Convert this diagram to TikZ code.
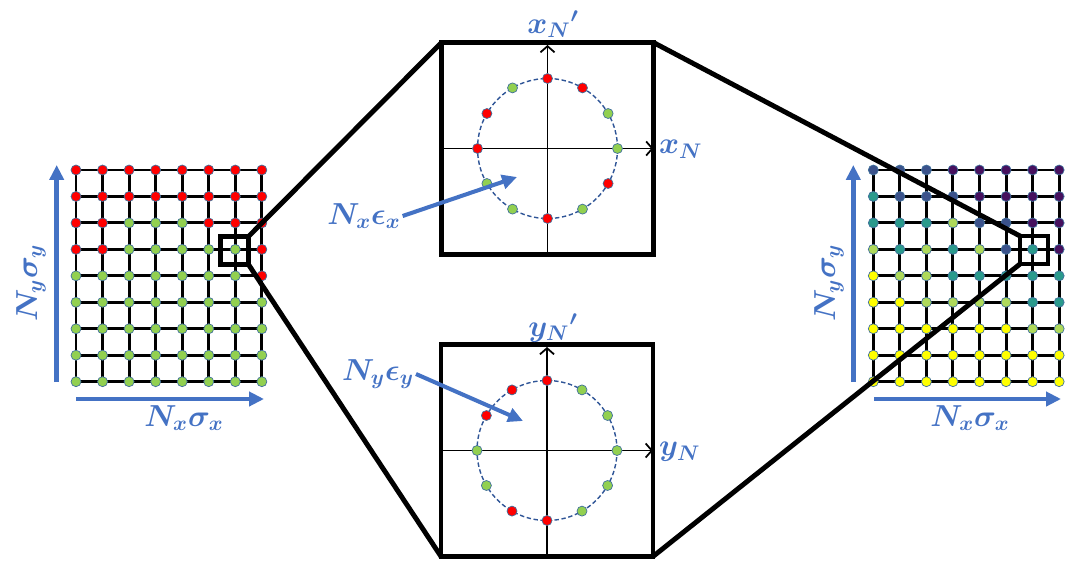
\documentclass[tikz,border=0pt]{standalone}
\usepackage{amsmath}
\usepackage{bm}
\usetikzlibrary{arrows.meta}
\definecolor{lblue}{HTML}{4472C4}
\definecolor{dotedge}{HTML}{41719C}
\definecolor{ringblue}{HTML}{2F5597}
\definecolor{cR}{HTML}{FF0000}
\definecolor{cG}{HTML}{92D050}
\definecolor{vP}{HTML}{46105E}
\definecolor{vB}{HTML}{3B528B}
\definecolor{vT}{HTML}{2A9A8C}
\definecolor{vL}{HTML}{AED95A}
\definecolor{vY}{HTML}{FFFF00}

\begin{document}
\begin{tikzpicture}[x=0.02cm, y=-0.02cm,
  bigbox/.style={draw, line width=2.8pt, minimum width=4.24cm, minimum height=4.24cm, inner sep=0pt, outer sep=0pt},
  smallbox/.style={draw, line width=2.3pt, minimum size=0.56cm, inner sep=0pt, outer sep=0pt},
  link/.style={line width=2.8pt, line cap=round},
  lbl/.style={text=lblue, font=\fontsize{18}{20}\selectfont, inner sep=1pt},
  bluearrow/.style={draw=lblue, line width=2.8pt, -{Triangle[length=8.5pt,width=8pt]}},
  axis/.style={line width=1pt, -{Straight Barb[length=3.5pt,width=8pt]}},
  gridline/.style={line width=1.7pt},
  dot/.style={draw=dotedge, line width=0.4pt}]
  \useasboundingbox (0,0) rectangle (1074,561);
  %% 1. Left grid
  \foreach \j in {0,...,8} \draw[gridline] (76,{170+26.46*\j}) -- (261.9,{170+26.46*\j});
  \foreach \i in {0,...,7} \draw[gridline] ({76+26.55*\i},170) -- ({76+26.55*\i},381.7);
  \foreach \row [count=\j from 0] in {{cR,cR,cR,cR,cR,cR,cR,cR},{cR,cR,cR,cR,cR,cR,cR,cR},
      {cR,cR,cG,cG,cG,cR,cR,cR},{cR,cR,cG,cG,cG,cG,cG,cR},{cG,cG,cG,cG,cG,cG,cG,cR},
      {cG,cG,cG,cG,cG,cG,cG,cG},{cG,cG,cG,cG,cG,cG,cG,cG},{cG,cG,cG,cG,cG,cG,cG,cG},
      {cG,cG,cG,cG,cG,cG,cG,cG}}
    \foreach \c [count=\i from 0] in \row
      \filldraw[dot, fill=\c] ({76+26.55*\i},{170+26.46*\j}) circle (0.1cm);
  \draw[bluearrow] (56.7,382) -- (56.7,165);
  \draw[bluearrow] (76,399) -- (264,399);
  \node[lbl, rotate=90] (nyL) at (31,283) {$\bm{N_y\sigma_y}$};
  \node[lbl] (nxL) at (184,418) {$\bm{N_x\sigma_x}$};

  %% 2. Right grid
  \begin{scope}[shift={(797.3,0)}]
    \foreach \j in {0,...,8} \draw[gridline] (76,{170+26.46*\j}) -- (261.9,{170+26.46*\j});
    \foreach \i in {0,...,7} \draw[gridline] ({76+26.55*\i},170) -- ({76+26.55*\i},381.7);
    \foreach \row [count=\j from 0] in {{vB,vB,vB,vP,vP,vP,vP,vP},{vT,vB,vB,vB,vP,vP,vP,vP},
        {vT,vT,vT,vL,vB,vB,vP,vP},{vL,vT,vL,vT,vL,vB,vT,vP},{vY,vL,vL,vT,vT,vT,vT,vT},
        {vY,vY,vL,vL,vL,vL,vT,vT},{vY,vY,vY,vY,vY,vY,vL,vL},{vY,vY,vY,vY,vY,vY,vY,vY},
        {vY,vY,vY,vY,vY,vY,vY,vY}}
      \foreach \c [count=\i from 0] in \row
        \filldraw[dot, fill=\c] ({76+26.55*\i},{170+26.46*\j}) circle (0.1cm);
  \end{scope}
  \draw[bluearrow] (853.3,382) -- (853.3,165);
  \draw[bluearrow] (874,399) -- (1061,399);
  \node[lbl, rotate=90] (nyR) at (829,283) {$\bm{N_y\sigma_y}$};
  \node[lbl] (nxR) at (970,418) {$\bm{N_x\sigma_x}$};

  %% 3. Zoom boxes
  \node[bigbox] (boxX) at (547.5,148.5) {};
  \node[bigbox] (boxY) at (547,450.5) {};
  \node[smallbox] (zoomL) at (234.5,250.5) {};
  \node[smallbox] (zoomR) at (1034,250) {};
  \draw[link] (zoomL.north east) -- (boxX.north west);
  \draw[link] (zoomL.south east) -- (boxY.south west);
  \draw[link] (boxX.north east) -- (zoomR.north west);
  \draw[link] (boxY.south east) -- (zoomR.south west);

  %% 4. Rings
  \draw[axis] (boxX.west) -- (boxX.east);
  \draw[axis, shorten >=1.4pt] (boxX.south) -- (boxX.north);
  \draw[ringblue, line width=0.8pt, dash pattern=on 2.5pt off 1.5pt] (boxX.center) circle (1.4cm);
  \foreach \a/\c in {90/cR,60/cR,30/cG,0/cG,-30/cR,-60/cG,-90/cR,-120/cG,-150/cG,180/cR,150/cR,120/cG}
    \filldraw[dot, fill=\c] ([shift={(\a:1.4cm)}]boxX.center) circle (0.1cm);
  \node[lbl] (xNp) at (553,24) {$\bm{x_{N}{}'}$};
  \node[lbl, anchor=west] (xN) at (657,149) {$\bm{x_N}$};

  \draw[axis] (boxY.west) -- (boxY.east);
  \draw[axis, shorten >=1.4pt] (boxY.south) -- (boxY.north);
  \draw[ringblue, line width=0.8pt, dash pattern=on 2.5pt off 1.5pt] (boxY.center) circle (1.4cm);
  \foreach \a/\c in {90/cR,120/cR,150/cR,180/cG,-150/cG,-120/cR,-90/cR,-60/cG,-30/cG,0/cG,30/cG,60/cG}
    \filldraw[dot, fill=\c] ([shift={(\a:1.4cm)}]boxY.center) circle (0.1cm);
  \node[lbl] (yNp) at (553,328) {$\bm{y_{N}{}'}$};
  \node[lbl, anchor=west] (yN) at (657,452) {$\bm{y_N}$};

  %% 5. Emittance pointers
  \node[lbl] (nxex) at (364,216) {$\bm{N_x\epsilon_x}$};
  \node[lbl] (nyey) at (378,374) {$\bm{N_y\epsilon_y}$};
  \coordinate (tipX) at (517,177);
  \coordinate (tipY) at (523,421);
  \draw[bluearrow, line width=2.3pt] (nxex.east) -- (tipX);
  \draw[bluearrow, line width=2.3pt] (nyey.east) -- (tipY);
\end{tikzpicture}
\end{document}
